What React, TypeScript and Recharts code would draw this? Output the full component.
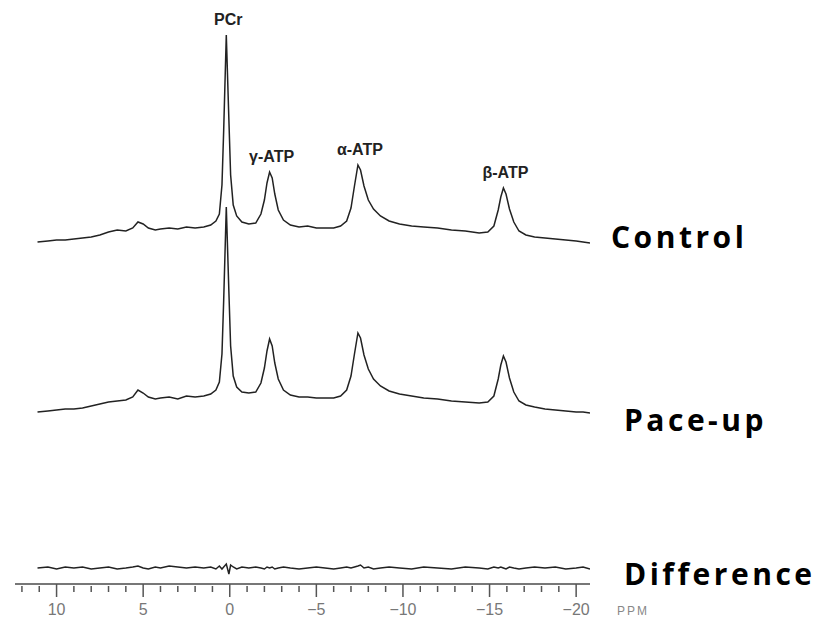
import React from 'react'
import { LineChart, Line, XAxis, YAxis, ReferenceDot, LabelList } from 'recharts'

// chemical shift grid (ppm), shared by all three traces
const ppm = [
  11.1, 10.5, 10, 9.5, 9, 8.5, 8, 7.5, 7, 6.5,
  6, 5.6, 5.3, 5, 4.7, 4.3, 4, 3.5, 3, 2.5,
  2, 1.5, 1.1, 0.8, 0.6, 0.45, 0.35, 0.2, 0.05, -0.05,
  -0.2, -0.4, -0.7, -1.1, -1.5, -1.8, -2.0, -2.15, -2.3, -2.45,
  -2.6, -2.8, -3.1, -3.5, -4, -4.5, -5, -5.5, -6, -6.4,
  -6.75, -7.0, -7.2, -7.4, -7.55, -7.75, -8.0, -8.3, -8.7, -9.2,
  -9.8, -10.5, -11.2, -12, -12.8, -13.6, -14.4, -14.9, -15.25, -15.5,
  -15.65, -15.8, -15.95, -16.15, -16.4, -16.7, -17.1, -17.6, -18.2, -18.8,
  -19.4, -20, -20.4, -20.8,
]

// signal intensity above each trace's own baseline
const control = [
  0, 1, 2, 2, 3, 4, 5, 7, 10, 12,
  11, 14, 20, 18, 14, 12, 13, 14, 13, 15,
  14, 15, 17, 21, 28, 57, 112, 207, 122, 67,
  37, 26, 20, 18, 19, 28, 42, 59, 70, 64,
  48, 32, 22, 17, 15, 16, 14, 14, 14, 16,
  21, 34, 56, 77, 72, 56, 42, 33, 26, 21,
  18, 16, 15, 14, 12, 11, 9, 10, 16, 32,
  45, 54, 48, 33, 20, 11, 7, 5, 4, 3,
  2, 1, 0, -1,
]

const paceUp = [
  0, 1, 2, 3, 3, 4, 6, 8, 10, 11,
  12, 15, 22, 19, 15, 13, 14, 15, 13, 16,
  15, 16, 18, 22, 30, 58, 112, 205, 120, 66,
  36, 25, 20, 19, 20, 29, 44, 61, 73, 66,
  49, 33, 22, 17, 15, 15, 14, 14, 14, 16,
  22, 36, 58, 79, 74, 57, 43, 33, 26, 21,
  18, 16, 14, 13, 11, 10, 9, 10, 16, 33,
  47, 56, 50, 34, 20, 11, 7, 5, 3, 2,
  1, 0, 0, -1,
]

const difference = [
  0, 1, -1, 1, 0, 1, -1, 0, 1, -1,
  0, 1, 2, 0, -1, 1, 0, 2, 1, 0,
  1, 0, 1, -1, 2, -1, 1, 4, -6, 3,
  1, -1, 1, 0, 1, 0, -1, 1, 0, 1,
  -1, 0, 1, 0, -1, 0, 1, 0, -1, 0,
  1, 0, 1, 2, 3, 0, 1, -1, 0, 1,
  0, -1, 1, 0, -1, 1, 0, -1, 1, 0,
  1, 0, -1, 1, 0, -1, 0, 1, 0, 1,
  -1, 0, 1, -1,
]

const ppmTicks = [
  12, 11, 10, 9, 8, 7, 6, 5, 4, 3, 2, 1, 0, -1, -2, -3, -4, -5, -6, -7, -8,
  -9, -10, -11, -12, -13, -14, -15, -16, -17, -18, -19, -20,
]

const peakNames = ['PCr', 'γ-ATP', 'α-ATP', 'β-ATP']
const peakPpm = [0.2, -2.3, -7.4, -15.8]

const traceNames = ['Control', 'Pace-up', 'Difference']

// vertical stacking of the traces
const CONTROL_BASE = 342
const PACE_BASE = 172
const DIFF_BASE = 16

const rows = ppm.map((p, i) => ({
  ppm: p,
  control: control[i] + CONTROL_BASE,
  paceUp: paceUp[i] + PACE_BASE,
  difference: difference[i] + DIFF_BASE,
}))

const last = rows.length - 1

const PpmTick = (props: any) => {
  const { x, y, payload } = props
  const v = payload.value
  const major = v % 5 === 0
  return (
    <g>
      <line x1={x} x2={x} y1={y + (major ? 0 : 2)} y2={y + (major ? 13 : 8)} stroke="#555" strokeWidth={1.5} />
      {major && (
        <text x={x} y={y + 31} textAnchor="middle" fontSize={16} fill="#777" fontFamily="Liberation Sans, sans-serif">
          {v < 0 ? `−${-v}` : v}
        </text>
      )}
    </g>
  )
}

const endLabel = (name: string, dx: number, dy: number) => (props: any) => {
  if (props.index !== last) return null
  return (
    <text
      x={props.x + dx}
      y={props.y + dy}
      fontSize={30}
      fontWeight="bold"
      letterSpacing={3.5}
      fill="#000"
      fontFamily="Open Sans, sans-serif"
    >
      {name}
    </text>
  )
}

const peakLabel = (name: string) => (props: any) => {
  const vb = props.viewBox
  return (
    <text
      x={vb.x + vb.width / 2 + 2}
      y={vb.y - 8}
      textAnchor="middle"
      fontSize={16}
      fontWeight="bold"
      fill="#222"
      fontFamily="Liberation Sans, Arial, sans-serif"
    >
      {name}
    </text>
  )
}

const App: React.FC = () => {
  return (
    <div style={{ position: 'absolute', left: 0, top: 0, width: 816, height: 622, background: '#fff' }}>
      <LineChart width={816} height={622} data={rows} margin={{ top: 0, right: 226, left: 15, bottom: 0 }}>
        <XAxis
          type="number"
          dataKey="ppm"
          domain={[-20.8, 12.4]}
          reversed
          allowDataOverflow
          ticks={ppmTicks}
          interval={0}
          height={38}
          tickSize={0}
          tickMargin={0}
          tickLine={false}
          axisLine={{ stroke: '#777', strokeWidth: 2 }}
          tick={<PpmTick />}
        />
        <YAxis type="number" domain={[0, 584]} hide allowDataOverflow />
        <Line dataKey="control" stroke="#222" strokeWidth={1.5} dot={false} type="linear" isAnimationActive={false}>
          <LabelList dataKey="control" content={endLabel(traceNames[0], 21, 5)} />
        </Line>
        <Line dataKey="paceUp" stroke="#222" strokeWidth={1.5} dot={false} type="linear" isAnimationActive={false}>
          <LabelList dataKey="paceUp" content={endLabel(traceNames[1], 34, 18)} />
        </Line>
        <Line dataKey="difference" stroke="#222" strokeWidth={1.5} dot={false} type="linear" isAnimationActive={false}>
          <LabelList dataKey="difference" content={endLabel(traceNames[2], 34, 16)} />
        </Line>
        {peakNames.map((name, i) => {
          const row = rows.find((r) => r.ppm === peakPpm[i])
          return (
            <ReferenceDot
              key={name}
              x={peakPpm[i]}
              y={row ? row.control : 0}
              r={2}
              fill="none"
              stroke="none"
              label={peakLabel(name)}
            />
          )
        })}
        <text x={617} y={615} fontSize={12} letterSpacing={2} fill="#888" fontFamily="Liberation Sans, sans-serif">
          PPM
        </text>
      </LineChart>
    </div>
  )
}

export default App
